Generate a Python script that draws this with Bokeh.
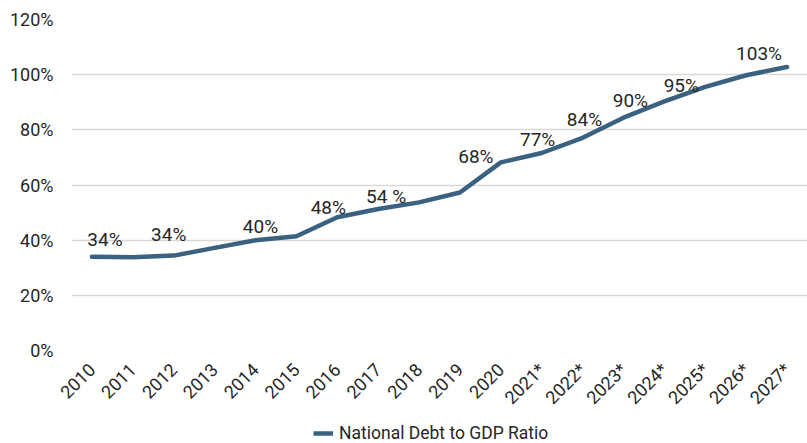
import math
from bokeh.plotting import figure
from bokeh.layouts import column
from bokeh.models import (ColumnDataSource, Range1d, FactorRange, FixedTicker,
                          PrintfTickFormatter, Legend, LegendItem)
from bokeh.core.properties import value
from bokeh.embed import file_html
from bokeh.resources import INLINE

# ---- data ----
years = ["2010", "2011", "2012", "2013", "2014", "2015", "2016", "2017", "2018",
         "2019", "2020", "2021*", "2022*", "2023*", "2024*", "2025*", "2026*", "2027*"]
debt_ratio = [34.0, 33.8, 34.4, 37.2, 40.0, 41.4, 48.3, 51.3, 53.7,
              57.3, 68.2, 71.6, 77.1, 84.4, 90.3, 95.6, 99.8, 102.8]
y_ticks = [0, 20, 40, 60, 80, 100, 120]
series_name = "National Debt to GDP Ratio"

label_years = ["2010", "2012", "2014", "2016", "2018", "2020", "2022*", "2023*", "2024*", "2025*", "2027*"]
label_texts = ["34%", "34%", "40%", "48%", "54 %", "68%", "77%", "84%", "90%", "95%", "103%"]
# label placement offsets (screen px) relative to the data point
label_dx = [13, -5, 5, -9, -33, -25, -45, -39, -34, -24, -28]
label_dy = [-17, -21, -14, -10, -6, -6, 2, 2, -1, -1, -13]

FONT = "Roboto"
TEXT = "#262626"
LINE = "#3b6180"

p = figure(width=807, height=418, x_range=FactorRange(factors=years), y_range=Range1d(0, 120),
           output_backend="svg", toolbar_location=None)
p.min_border_left = 71
p.min_border_right = 0
p.min_border_top = 19
p.min_border_bottom = 68
p.outline_line_color = None

src = ColumnDataSource(dict(x=years, y=debt_ratio))
line = p.line("x", "y", source=src, line_color=LINE, line_width=4.5,
              line_join="round", line_cap="round")

lab_y = [debt_ratio[years.index(yr)] for yr in label_years]
lsrc = ColumnDataSource(dict(x=label_years, y=lab_y, t=label_texts, dx=label_dx, dy=label_dy))
p.text("x", "y", text="t", source=lsrc, x_offset="dx", y_offset="dy",
       text_font=value(FONT), text_font_size="19px", text_color=TEXT,
       text_align="center", text_baseline="alphabetic")

# y axis
p.yaxis.ticker = FixedTicker(ticks=y_ticks)
p.yaxis.formatter = PrintfTickFormatter(format="%d%%")
p.yaxis.axis_line_color = None
p.yaxis.major_tick_line_color = None
p.yaxis.minor_tick_line_color = None
p.yaxis.major_label_text_font = FONT
p.yaxis.major_label_text_font_size = "18px"
p.yaxis.major_label_text_color = TEXT
p.yaxis.major_label_standoff = 12

# x axis
p.xaxis.axis_line_color = None
p.xaxis.major_tick_line_color = None
p.xaxis.minor_tick_line_color = None
p.xaxis.major_label_orientation = 0.785
p.xaxis.major_label_text_font = FONT
p.xaxis.major_label_text_font_size = "18px"
p.xaxis.major_label_text_color = TEXT
p.xaxis.major_label_standoff = 10

p.xgrid.grid_line_color = None
p.ygrid.grid_line_color = "#d9d9d9"
p.ygrid.grid_line_width = 1.5
p.ygrid.ticker = FixedTicker(ticks=y_ticks)

# legend strip below the chart (its line sits outside the visible range; only the legend shows)
lg = figure(width=807, height=25, x_range=Range1d(0, 1), y_range=Range1d(0, 1),
            output_backend="svg", toolbar_location=None,
            x_axis_type=None, y_axis_type=None,
            min_border=0, min_border_left=0, min_border_right=0,
            min_border_top=0, min_border_bottom=0)
lg.outline_line_color = None
lg.xgrid.visible = False
lg.ygrid.visible = False
proxy = lg.line(x=list(range(len(debt_ratio))), y=debt_ratio, line_color=LINE, line_width=4.5)
legend = Legend(items=[LegendItem(label=series_name, renderers=[proxy])],
                orientation="horizontal", location=(242, 0),
                border_line_color=None, background_fill_alpha=0,
                label_text_font=FONT, label_text_font_size="17.5px", label_text_color=TEXT,
                glyph_width=20, glyph_height=18, label_height=18, label_standoff=6,
                padding=2, margin=0, spacing=0)
lg.add_layout(legend)

layout = column(p, lg, spacing=0)
open("out.html", "w").write(file_html(layout, INLINE))
